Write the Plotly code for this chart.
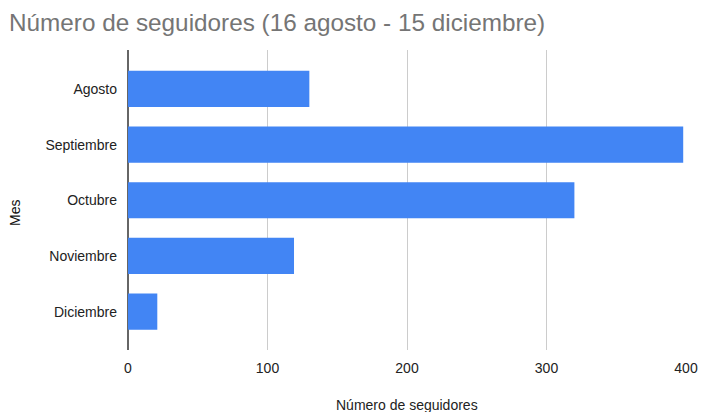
import plotly.graph_objects as go

meses = ["Agosto", "Septiembre", "Octubre", "Noviembre", "Diciembre"]
seguidores = [130, 398, 320, 119, 21]
x_ticks = [0, 100, 200, 300, 400]

fig = go.Figure(go.Bar(
    x=seguidores, y=meses, orientation="h",
    marker=dict(color="#4285F4", line=dict(width=0)),
    width=0.65,
))

ff = "Liberation Sans"

fig.update_layout(
    width=702, height=412,
    margin=dict(l=128, r=16, t=50, b=62, autoexpand=False),
    paper_bgcolor="white", plot_bgcolor="white",
    showlegend=False,
    font=dict(family=ff, color="#222222", size=14),
    title=dict(text="Número de seguidores (16 agosto - 15 diciembre)",
               x=9/702, xanchor="left", xref="container",
               y=1 - 22/412, yanchor="middle", yref="container",
               font=dict(size=24.3, color="#757575", family=ff)),
    xaxis=dict(range=[0, 400], tickvals=x_ticks, showgrid=True,
               gridcolor="#cccccc", gridwidth=1, zeroline=True,
               zerolinecolor="#666666", zerolinewidth=1.5,
               showline=False, ticks="", ticklabelstandoff=8,
               automargin=False,
               tickfont=dict(size=14, color="#222222")),
    yaxis=dict(type="category", categoryorder="array", categoryarray=meses,
               range=[4.69, -0.70], showgrid=False, zeroline=False,
               ticks="", ticklabelstandoff=10, automargin=False,
               tickfont=dict(size=14, color="#222222")),
    annotations=[
        dict(text="Número de seguidores", xref="paper", yref="paper",
             x=0.5, y=-(405 - 350) / 300, xanchor="center", yanchor="middle",
             showarrow=False, font=dict(size=14, color="#222222", family=ff)),
        dict(text="Mes", xref="paper", yref="paper",
             x=-(128 - 15) / 558, y=(350 - 213) / 300, xanchor="center", yanchor="middle",
             textangle=-90, showarrow=False,
             font=dict(size=14, color="#111111", family=ff)),
    ],
)

fig.write_html("out.html", config={"displayModeBar": False},
               post_script="document.body.style.margin='0';")
